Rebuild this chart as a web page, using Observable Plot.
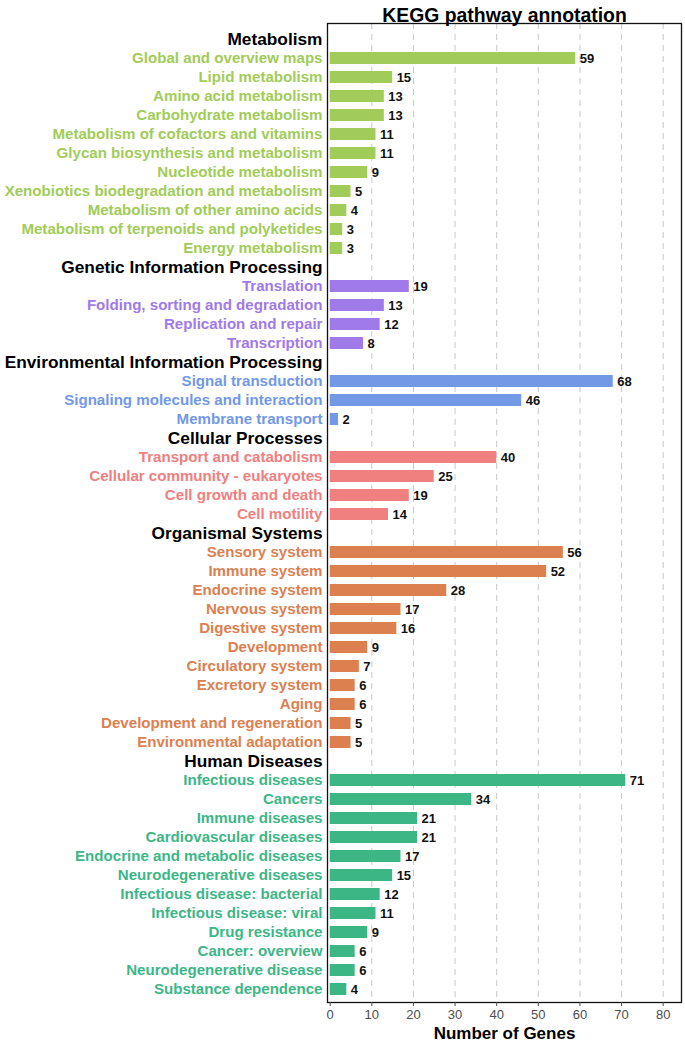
<!DOCTYPE html>
<html><head><meta charset="utf-8">
<script src="https://cdn.jsdelivr.net/npm/d3@7"></script>
<script src="https://cdn.jsdelivr.net/npm/@observablehq/plot@0.6"></script>
<style>body{margin:0;background:#fff}</style>
</head><body><div id="chart"></div>
<script>
const groups = ["Metabolism","Genetic Information Processing","Environmental Information Processing","Cellular Processes","Organismal Systems","Human Diseases"];
const groupColors = ["#a1cc59","#9f7ae8","#7298e6","#f08080","#dc8050","#3db686"];

const metabolismTerms = ["Global and overview maps","Lipid metabolism","Amino acid metabolism","Carbohydrate metabolism","Metabolism of cofactors and vitamins","Glycan biosynthesis and metabolism","Nucleotide metabolism","Xenobiotics biodegradation and metabolism","Metabolism of other amino acids","Metabolism of terpenoids and polyketides","Energy metabolism"];
const metabolismValues = [59,15,13,13,11,11,9,5,4,3,3];
const geneticTerms = ["Translation","Folding, sorting and degradation","Replication and repair","Transcription"];
const geneticValues = [19,13,12,8];
const environmentalTerms = ["Signal transduction","Signaling molecules and interaction","Membrane transport"];
const environmentalValues = [68,46,2];
const cellularTerms = ["Transport and catabolism","Cellular community - eukaryotes","Cell growth and death","Cell motility"];
const cellularValues = [40,25,19,14];
const organismalTerms = ["Sensory system","Immune system","Endocrine system","Nervous system","Digestive system","Development","Circulatory system","Excretory system","Aging","Development and regeneration","Environmental adaptation"];
const organismalValues = [56,52,28,17,16,9,7,6,6,5,5];
const humanTerms = ["Infectious diseases","Cancers","Immune diseases","Cardiovascular diseases","Endocrine and metabolic diseases","Neurodegenerative diseases","Infectious disease: bacterial","Infectious disease: viral","Drug resistance","Cancer: overview","Neurodegenerative disease","Substance dependence"];
const humanValues = [71,34,21,21,17,15,12,11,9,6,6,4];
const xTicks = [0,10,20,30,40,50,60,70,80];

const termLists = [metabolismTerms, geneticTerms, environmentalTerms, cellularTerms, organismalTerms, humanTerms];
const valueLists = [metabolismValues, geneticValues, environmentalValues, cellularValues, organismalValues, humanValues];

const rows = [];
groups.forEach((g, gi) => {
  rows.push({label: g, group: g, header: true});
  termLists[gi].forEach((t, i) => rows.push({label: t, group: g, value: valueLists[gi][i], header: false}));
});
const headers = rows.filter(d => d.header);
const items = rows.filter(d => !d.header);

const font = "'Liberation Sans', Arial, Helvetica, sans-serif";

const chart = Plot.plot({
  width: 685, height: 1045,
  marginLeft: 327, marginRight: 4, marginTop: 23, marginBottom: 43,
  style: {fontFamily: font, background: "#fff", overflow: "visible"},
  x: {domain: [-0.65, 84.4], label: null},
  y: {domain: rows.map(d => d.label), range: [23.2, 1003.6], paddingInner: 0.39, paddingOuter: 0.195, axis: null},
  color: {domain: groups, range: groupColors},
  marks: [
    Plot.ruleX(xTicks.filter(t => t > 0), {stroke: "#c8c8c8", strokeWidth: 1, strokeDasharray: "6,5"}),
    Plot.barX(items, {x1: 0, x2: "value", y: "label", fill: "group"}),
    Plot.text(items, {x: "value", y: "label", text: d => String(d.value), dx: 4, textAnchor: "start", fontWeight: "bold", fontSize: 13, fill: "#111"}),
    Plot.text(items, {y: "label", frameAnchor: "left", dx: -5, textAnchor: "end", text: "label", fill: "group", fontWeight: "bold", fontSize: 15.1}),
    Plot.text(headers, {y: "label", frameAnchor: "left", dx: -5, textAnchor: "end", text: "label", fill: "#000", fontWeight: "bold", fontSize: 17.3}),
    Plot.frame({stroke: "#111", strokeWidth: 1.3}),
    Plot.axisX({ticks: xTicks, tickSize: 4, tickPadding: 3, fontSize: 13, color: "#4d4d4d", label: null}),
    Plot.text(["Number of Genes"], {frameAnchor: "bottom", dy: 36.5, text: d => d, fontWeight: "bold", fontSize: 17, fill: "#000"}),
    Plot.text(["KEGG pathway annotation"], {frameAnchor: "top", dy: -15, text: d => d, fontWeight: "bold", fontSize: 19.4, fill: "#000"})
  ]
});
document.getElementById("chart").appendChild(chart);
</script>
</body></html>
